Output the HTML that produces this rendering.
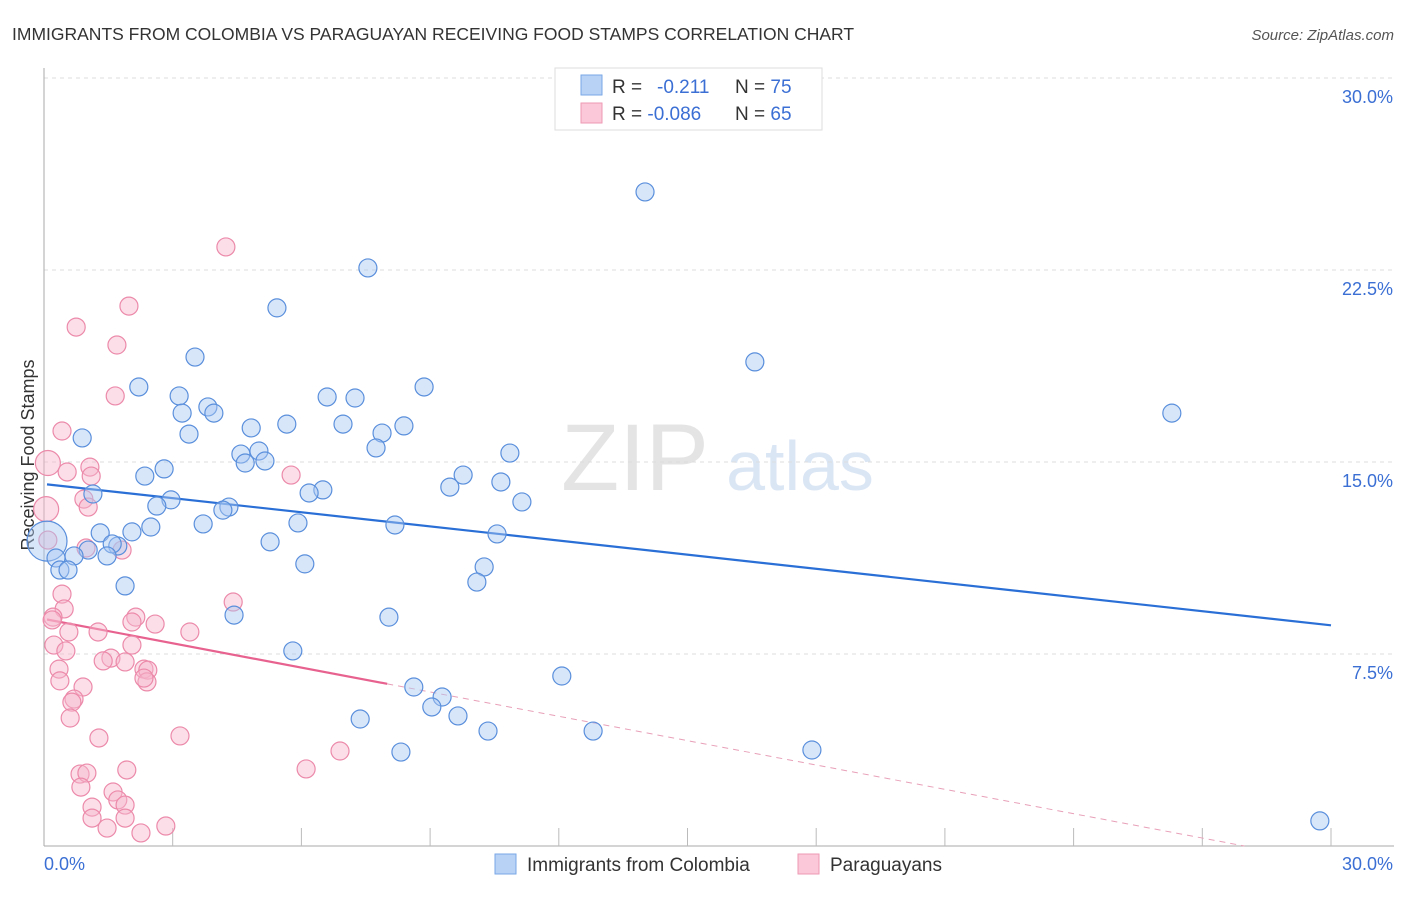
<!DOCTYPE html>
<html><head><meta charset="utf-8"><style>
body{margin:0;background:#fff;font-family:"Liberation Sans",sans-serif;}
svg text{font-family:"Liberation Sans",sans-serif;}
</style></head><body>
<svg id="chart" width="1406" height="892">
<text x="12" y="40" font-size="17.5" fill="#333">IMMIGRANTS FROM COLOMBIA VS PARAGUAYAN RECEIVING FOOD STAMPS CORRELATION CHART</text>
<text x="1394" y="40" font-size="15" fill="#555" font-style="italic" text-anchor="end">Source: ZipAtlas.com</text>
<text x="34" y="455" font-size="18" fill="#333" text-anchor="middle" transform="rotate(-90 34 455)">Receiving Food Stamps</text>
<g id="watermark">
<text x="635" y="490" font-size="95" fill="#e4e4e4" font-family="Liberation Serif" text-anchor="middle">ZIP</text>
<text x="800" y="490" font-size="70" fill="#dbe6f5" text-anchor="middle">atlas</text>
</g>
<g id="grid"></g><g id="axes"></g><g id="trend"></g><g id="pts"></g>
<g>
<rect x="555" y="68" width="267" height="62" fill="#fff" stroke="#ddd"/>
<rect x="581" y="75" width="21" height="20" fill="#b8d2f5" stroke="#7aa7e6"/>
<rect x="581" y="103" width="21" height="20" fill="#fac8d8" stroke="#ef9ab5"/>
<text x="612" y="93" font-size="19" fill="#333">R = <tspan x="657" fill="#3b6fd4">-0.211</tspan></text>
<text x="735" y="93" font-size="19" fill="#333">N = <tspan fill="#3b6fd4">75</tspan></text>
<text x="612" y="120" font-size="19" fill="#333">R = <tspan fill="#3b6fd4">-0.086</tspan></text>
<text x="735" y="120" font-size="19" fill="#333">N = <tspan fill="#3b6fd4">65</tspan></text>
</g>
<g>
<rect x="495" y="854" width="21" height="20" fill="#b8d2f5" stroke="#7aa7e6"/>
<text x="527" y="871" font-size="19" fill="#333">Immigrants from Colombia</text>
<rect x="798" y="854" width="21" height="20" fill="#fac8d8" stroke="#ef9ab5"/>
<text x="830" y="871" font-size="19" fill="#333">Paraguayans</text>
</g>
</svg>
<script>
const yTicks=[7.5,15,22.5,30];
const yTickLabels=["7.5%","15.0%","22.5%","30.0%"];
const xTickLabels=["0.0%","30.0%"];
const blueX=[14.01,7.55,5.43,3.52,16.57,2.21,3.15,8.86,6.60,7.25,3.82,3.22,3.96,26.29,6.97,8.39,5.66,0.89,4.83,3.38,7.88,7.74,4.59,5.01,4.69,5.15,10.86,2.80,2.35,9.77,9.46,10.65,1.14,6.50,6.18,2.96,11.14,2.63,4.31,4.17,3.71,5.92,8.18,1.31,2.05,2.49,10.56,5.27,1.72,1.59,0.07,0.28,1.03,1.47,0.70,0.37,0.56,10.26,6.08,1.89,10.09,4.43,8.04,12.07,5.80,8.62,9.28,9.04,7.37,9.65,10.35,8.32,12.80,17.90,29.74];
const blueY=[25.55,22.58,21.02,19.10,18.91,17.93,17.58,17.93,17.54,17.50,17.15,16.91,16.91,16.91,16.48,16.41,16.48,15.94,16.33,16.09,16.13,15.55,15.31,15.43,14.96,15.04,15.35,14.73,14.45,14.49,14.02,14.22,13.75,13.91,13.79,13.52,13.44,13.28,13.24,13.12,12.58,12.62,12.54,12.23,12.27,12.46,12.19,11.88,11.72,11.80,11.91,11.25,11.56,11.33,11.33,10.78,10.78,10.90,11.02,10.16,10.31,9.02,8.94,6.64,7.62,6.21,5.82,5.43,4.96,5.08,4.49,3.67,4.49,3.75,0.98];
const pinkX=[4.24,1.98,0.75,1.70,1.66,0.42,0.09,0.54,1.07,1.10,5.76,0.93,1.03,0.05,0.98,1.82,0.42,0.47,0.21,0.19,2.14,2.05,4.41,0.58,2.59,1.26,3.40,0.23,0.51,2.05,1.56,1.89,1.38,2.33,2.42,2.40,2.33,0.35,0.37,0.91,0.70,0.65,0.61,1.28,3.17,6.90,6.11,1.93,0.84,1.00,0.86,1.61,1.72,1.12,1.89,1.12,1.89,1.47,2.26,2.84,0.09];
const pinkY=[23.40,21.09,20.27,19.57,17.58,16.21,14.96,14.61,14.80,14.45,14.49,13.55,13.24,13.16,11.64,11.56,9.84,9.26,8.94,8.83,8.94,8.75,9.53,8.36,8.67,8.36,8.36,7.85,7.62,7.85,7.34,7.19,7.23,6.91,6.87,6.41,6.56,6.91,6.45,6.21,5.74,5.62,5.00,4.22,4.30,3.71,3.01,2.97,2.81,2.85,2.30,2.11,1.80,1.52,1.60,1.09,1.09,0.70,0.51,0.78,11.95];
const blueTrend=[14.14,-0.184];
const pinkTrend=[8.87,-0.317];
const NS="http://www.w3.org/2000/svg";
const X0=44,X1=1331,Y0=846,YTOP=78;
const sx=v=>X0+(v/30)*(X1-X0);
const sy=v=>Y0-(v/30)*(Y0-YTOP);
function mk(tag,attrs,parent){const e=document.createElementNS(NS,tag);for(const k in attrs)e.setAttribute(k,attrs[k]);parent.appendChild(e);return e;}
const grid=document.getElementById('grid'),axes=document.getElementById('axes'),trend=document.getElementById('trend'),pts=document.getElementById('pts');
yTicks.forEach((t,i)=>{
  const l=mk('line',{x1:44,x2:1394,y1:sy(t),y2:sy(t),stroke:'#ddd','stroke-dasharray':'4,4'},grid);
  
  
  const tx=mk('text',{x:1393,y:sy(t)+25,'font-size':18,fill:'#3b6fd4','text-anchor':'end'},axes);
  tx.textContent=yTickLabels[i];
  
  
});
let ax=mk('line',{x1:44,x2:44,y1:68,y2:846,stroke:'#aaa'},axes);


ax=mk('line',{x1:44,x2:1394,y1:846,y2:846,stroke:'#aaa'},axes);


for(let i=1;i<=10;i++){
  const v=i*3;
  const t=mk('line',{x1:sx(v),x2:sx(v),y1:828,y2:846,stroke:'#bbb'},axes);
  
  
}
[[0,'start',44],[30,'end',1393]].forEach((d,i)=>{
  const tx=mk('text',{x:d[2],y:870,'font-size':18,fill:'#3b6fd4','text-anchor':d[1]},axes);
  tx.textContent=xTickLabels[i];
  
  
});
function drawPts(xs,ys,fill,stroke,name){
  xs.forEach((x,i)=>{
    let r=9;
    if(name==='colombia-point'&&x<0.1)r=20;
    if(name==='paraguayan-point'&&x<0.1&&ys[i]>12.5)r=12.5;
    const c=mk('circle',{cx:sx(x),cy:sy(ys[i]),r:r,fill:fill,'fill-opacity':0.45,stroke:stroke,'stroke-width':1.2},pts);
    
    
  });
}
drawPts(pinkX,pinkY,'#f7b6cb','#ec8aaa','paraguayan-point');
drawPts(blueX,blueY,'#a9c8f2','#5a8fdc','colombia-point');
let bl=mk('line',{x1:sx(0.07),y1:sy(blueTrend[0]+blueTrend[1]*0.07),x2:sx(30),y2:sy(blueTrend[0]+blueTrend[1]*30),stroke:'#2a6fd6','stroke-width':2.2},trend);


const pEnd=8.0,pZero=-pinkTrend[0]/pinkTrend[1];
let pl=mk('line',{x1:sx(0.07),y1:sy(pinkTrend[0]+pinkTrend[1]*0.07),x2:sx(pEnd),y2:sy(pinkTrend[0]+pinkTrend[1]*pEnd),stroke:'#e8628f','stroke-width':2.2},trend);


let pd=mk('line',{x1:sx(pEnd),y1:sy(pinkTrend[0]+pinkTrend[1]*pEnd),x2:sx(pZero),y2:sy(0),stroke:'#e8a0b8','stroke-width':1,'stroke-dasharray':'6,5'},trend);


</script>
</body></html>
